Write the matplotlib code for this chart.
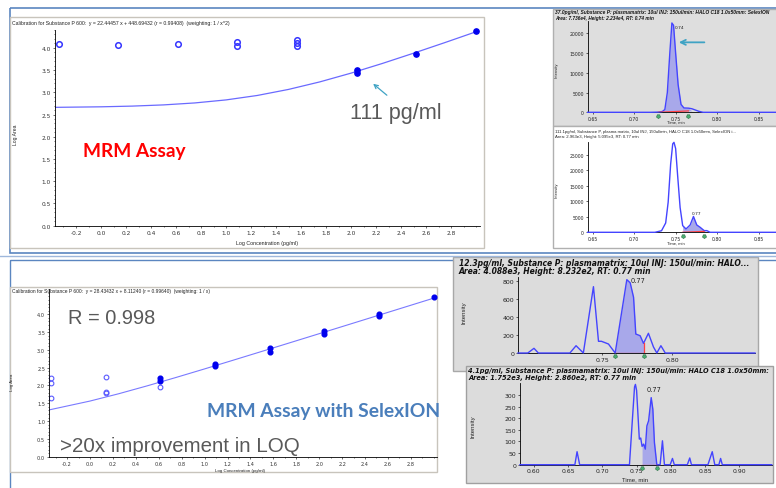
import matplotlib.pyplot as plt
from matplotlib.patches import Rectangle
from matplotlib.ticker import MultipleLocator, FormatStrFormatter
import numpy as np

W, H = 776, 489

# ---- calibration data (log conc pg/ml vs log area) ----
top_open_x = [-0.34, 0.137, 0.614, 1.09, 1.09, 1.568, 1.568, 1.568]
top_open_y = [4.08, 4.06, 4.08, 4.14, 4.04, 4.17, 4.10, 4.04]
top_fill_x = [2.045, 2.045, 2.522, 3.0]
top_fill_y = [3.51, 3.44, 3.86, 4.37]
top_fit_x = [-0.37, 0.0, 0.25, 0.5, 0.75, 1.0, 1.25, 1.5, 1.75, 2.0, 2.25, 2.5, 2.75, 3.0]
top_fit_y = [2.661, 2.673, 2.689, 2.716, 2.760, 2.828, 2.928, 3.064, 3.233, 3.430, 3.647, 3.878, 4.116, 4.360]

bot_open_x = [-0.34, -0.34, -0.34, 0.137, 0.137, 0.137, 0.614]
bot_open_y = [2.21, 2.06, 1.65, 2.23, 1.83, 1.80, 1.95]
bot_fill_x = [0.614, 0.614, 1.09, 1.09, 1.568, 1.568, 2.045, 2.045, 2.522, 2.522, 3.0]
bot_fill_y = [2.21, 2.12, 2.60, 2.54, 3.04, 2.93, 3.52, 3.45, 4.01, 3.96, 4.49]
bot_fit_x = [-0.36, 0.0, 0.25, 0.5, 0.75, 1.0, 1.25, 1.5, 1.75, 2.0, 2.25, 2.5, 2.75, 3.0]
bot_fit_y = [1.312, 1.563, 1.768, 1.991, 2.225, 2.466, 2.711, 2.958, 3.206, 3.455, 3.704, 3.954, 4.204, 4.454]

# ---- chromatograms (time min vs intensity) ----
t1 = [0.644, 0.720, 0.729, 0.734, 0.737, 0.740, 0.743, 0.7455, 0.7475, 0.750, 0.753,
      0.7565, 0.760, 0.7655, 0.7696, 0.7735, 0.7780, 0.7830, 0.871]
i1 = [0, 0, 50, 200, 700, 5000, 15000, 22600, 22000, 15000, 7000, 2000, 1100, 1050, 900, 600, 250, 0, 0]
int1 = (0.729, 0.7655)

t2 = [0.644, 0.725, 0.733, 0.738, 0.741, 0.744, 0.7465, 0.748, 0.750, 0.7525, 0.7554, 0.7585,
      0.7625, 0.7675, 0.7715, 0.7755, 0.7796, 0.7844, 0.7876, 0.7916, 0.871]
i2 = [0, 0, 500, 3000, 9700, 22000, 28500, 29000, 27000, 18000, 8000, 2150, 1075, 2365, 5100,
      2365, 1600, 540, 540, 0, 0]
int2 = (0.7585, 0.7844)

t3 = [0.690, 0.697, 0.7014, 0.7045, 0.727, 0.7314, 0.7366, 0.7438, 0.7474, 0.7495, 0.7545, 0.7593,
      0.7676, 0.7700, 0.7724, 0.7740, 0.7771, 0.7795, 0.7830, 0.7866, 0.7890, 0.7919, 0.7950, 0.859]
i3 = [0, 0, 52, 0, 0, 81, 0, 737, 130, 130, 100, 0, 815, 780, 619, 211, 192, 107, 219, 67, 0, 81, 0, 0]
int3 = (0.7593, 0.7795)

t4 = [0.580, 0.660, 0.6632, 0.667, 0.7396, 0.7440, 0.7470, 0.7483, 0.7500, 0.7540, 0.7560, 0.7580,
      0.7603, 0.7627, 0.7650, 0.7675, 0.7713, 0.7737, 0.7760, 0.7795, 0.7843, 0.7877, 0.7906, 0.7990,
      0.8023, 0.8050, 0.8240, 0.8275, 0.8300, 0.8540, 0.8603, 0.8640, 0.8700, 0.8725, 0.8750, 0.947]
i4 = [0, 0, 56, 0, 0, 200, 335, 346, 320, 110, 115, 79, 89, 67, 167, 189, 289, 239, 96, 0, 0, 103, 0,
      0, 27, 0, 0, 29, 0, 0, 56, 0, 0, 27, 0, 0]
int4 = (0.7580, 0.7795)

TRACE = '#4444ff'
FILLC = '#a8a8ea'
GRAY_TXT = '#595959'
BOX_BLUE = '#5b86c0'
TEAL = '#3fa3c4'

fig = plt.figure(figsize=(W / 100, H / 100), dpi=100)


def rect(x0, y0, x1, y1):
    return [x0 / W, 1 - y1 / H, (x1 - x0) / W, (y1 - y0) / H]


bg = fig.add_axes([0, 0, 1, 1], zorder=0)
bg.set_xlim(0, W)
bg.set_ylim(H, 0)
bg.axis('off')


def box(x0, y0, x1, y1, fc='none', ec='#c8c4bc', lw=1.0):
    bg.add_patch(Rectangle((x0, y0), x1 - x0, y1 - y0, fc=fc, ec=ec, lw=lw))


# slide boxes
box(10, 9, 800, 254, ec=BOX_BLUE, lw=1.2)
bg.plot([0, W], [257, 257], color='#9fb8dc', lw=1.0)
box(10, 261, 800, 520, ec=BOX_BLUE, lw=1.0)
# calibration frames
box(10, 18, 484, 249, fc='white')
box(10, 288, 437, 473, fc='white')
# chromatogram panels
box(553, 10, 800, 127, fc='#dedede', ec='#b0b0b0')
box(553, 127, 800, 249, fc='white', ec='#b0b0b0')
box(453, 258, 758, 372, fc='#dcdcdc', ec='#a8a8a8')
box(466, 367, 773, 484, fc='#dcdcdc', ec='#a0a0a0')


def calib(ax, xlim, ylim, fs):
    ax.set_xlim(*xlim)
    ax.set_ylim(*ylim)
    for s in ['top', 'right']:
        ax.spines[s].set_visible(False)
    for s in ['left', 'bottom']:
        ax.spines[s].set_linewidth(0.6)
    ax.set_xticks(np.arange(-0.2, 2.81, 0.2))
    ax.set_yticks(np.arange(0, 4.01, 0.5))
    ax.xaxis.set_major_formatter(FormatStrFormatter('%.1f'))
    ax.yaxis.set_major_formatter(FormatStrFormatter('%.1f'))
    ax.xaxis.set_minor_locator(MultipleLocator(0.1))
    ax.yaxis.set_minor_locator(MultipleLocator(0.1))
    ax.tick_params(labelsize=fs, length=1.6, width=0.5, pad=1.2, colors='#333333')
    ax.tick_params(which='minor', length=0.9, width=0.4)
    ax.patch.set_alpha(0)


# ---- top calibration ----
ax1 = fig.add_axes(rect(55, 31, 480, 226.7), zorder=1)
calib(ax1, (-0.368, 3.032), (0, 4.4), 4.2)
ax1.plot(top_fit_x, top_fit_y, color='#6a6aff', lw=0.9)
ax1.plot(top_open_x, top_open_y, 'o', mfc='none', mec='#3535ff', ms=4, mew=1.1, clip_on=False)
ax1.plot(top_fill_x, top_fill_y, 'o', color='#0000ee', ms=3.8, clip_on=False)

# ---- bottom calibration ----
ax2 = fig.add_axes(rect(49, 290, 437, 457.7), zorder=1)
calib(ax2, (-0.358, 3.028), (0, 4.71), 3.6)
ax2.plot(bot_fit_x, bot_fit_y, color='#7a7aff', lw=0.8)
ax2.plot(bot_open_x, bot_open_y, 'o', mfc='none', mec='#5a5aff', ms=3.4, mew=0.8)
ax2.plot(bot_fill_x, bot_fill_y, 'o', color='#0000ee', ms=3.4, clip_on=False)


def chrom(ax, t, y, integ, xlim, ylim, xticks, yticks, fs, face, base_end=0.0, drop=False):
    t = np.array(t)
    y = np.array(y, dtype=float)
    ax.set_facecolor(face)
    base = np.interp(t, [integ[0], integ[1]], [0, base_end])
    m = (t >= integ[0]) & (t <= integ[1])
    ax.fill_between(t, base, y, where=m & (y >= base), color=FILLC, lw=0, interpolate=True)
    ax.plot(t, y, color=TRACE, lw=1.0, clip_on=False, zorder=3)
    ax.plot([integ[0], integ[1]], [0, base_end], color='#ff4040', lw=0.9, zorder=4)
    if drop:
        ax.plot([integ[1], integ[1]], [0, y[t == integ[1]][0]], color='#ff4040', lw=0.9, zorder=4)
    ax.plot(integ, [-ylim[1] * 0.045] * 2, marker=(5, 0, 180), ls='none', ms=3,
            mfc='#4caf72', mec='#2a6e44', mew=0.4, clip_on=False, zorder=5)
    ax.set_xlim(*xlim)
    ax.set_ylim(*ylim)
    for s in ['top', 'right']:
        ax.spines[s].set_visible(False)
    for s in ['left', 'bottom']:
        ax.spines[s].set_linewidth(0.6)
    ax.set_xticks(xticks)
    ax.set_yticks(yticks)
    ax.xaxis.set_major_formatter(FormatStrFormatter('%.2f'))
    ax.tick_params(labelsize=fs, length=1.5, width=0.5, pad=1.2, colors='#222222')


ax3 = fig.add_axes(rect(587.7, 22, 776, 113.3), zorder=1)
chrom(ax3, t1, i1, int1, (0.644, 0.871), (0, 23100), [0.65, 0.70, 0.75, 0.80, 0.85],
      [0, 5000, 10000, 15000, 20000], 3.3, '#dedede', base_end=350)
ax3.text(0.7495, 21300, '0.74', fontsize=3.2, color='#222222')
ax3.annotate('', xy=(0.7505, 17700), xytext=(0.7880, 17700),
             arrowprops=dict(arrowstyle='->', color=TEAL, lw=1.3, mutation_scale=9))

ax4 = fig.add_axes(rect(587.7, 143, 776, 233.3), zorder=1)
chrom(ax4, t2, i2, int2, (0.644, 0.871), (0, 29100), [0.65, 0.70, 0.75, 0.80, 0.85],
      [0, 5000, 10000, 15000, 20000, 25000], 3.3, 'white', base_end=300)
ax4.text(0.7695, 6000, '0.77', fontsize=3.2, color='#222222')

ax5 = fig.add_axes(rect(518, 277.5, 755, 354), zorder=1)
chrom(ax5, t3, i3, int3, (0.690, 0.859), (0, 850), [0.75, 0.80],
      [0, 200, 400, 600, 800], 4.5, '#dcdcdc', drop=True)
ax5.text(0.7700, 790, '0.77', fontsize=4.8, color='#222222')

ax6 = fig.add_axes(rect(520, 384, 771.7, 465.7), zorder=1)
chrom(ax6, t4, i4, int4, (0.580, 0.947), (0, 352), [0.60, 0.65, 0.70, 0.75, 0.80, 0.85, 0.90],
      [0, 50, 100, 150, 200, 250, 300], 4.4, '#dcdcdc')
ax6.text(0.7640, 318, '0.77', fontsize=4.8, color='#222222')

# ---- overlay texts ----
fg = fig.add_axes([0, 0, 1, 1], zorder=5)
fg.set_xlim(0, W)
fg.set_ylim(H, 0)
fg.axis('off')

small = dict(family='Liberation Sans', color='#222222')
fg.text(12, 23, 'Calibration for Substance P 600:  y = 22.44457 x + 448.69432 (r = 0.99408)  (weighting: 1 / x^2)',
        fontsize=3.7, va='center', **small)
fg.text(12, 292, 'Calibration for Substance P 600:  y = 28.43432 x + 8.11240 (r = 0.99640)  (weighting: 1 / x)',
        fontsize=3.5, va='center', **small)
fg.text(15, 135, 'Log Area', fontsize=3.6, rotation=90, ha='center', va='center', **small)
fg.text(267, 243, 'Log Concentration (pg/ml)', fontsize=3.8, ha='center', va='center', **small)
fg.text(12, 382, 'Log Area', fontsize=3.2, rotation=90, ha='center', va='center', **small)
fg.text(240, 471, 'Log Concentration (pg/ml)', fontsize=3.2, ha='center', va='center', **small)

fg.text(83, 151, 'MRM Assay', fontsize=13.8, fontweight='bold', color='#ff0000',
        family='Lato', va='center')
fg.text(350, 113, '111 pg/ml', fontsize=15.6, color=GRAY_TXT, family='Liberation Sans', va='center')
fg.annotate('', xy=(371, 83), xytext=(389, 98),
            arrowprops=dict(arrowstyle='->', color=TEAL, lw=0.9, mutation_scale=7))
fg.text(68, 318, 'R = 0.998', fontsize=14.4, color=GRAY_TXT, family='Liberation Sans', va='center')
fg.text(60, 447, '>20x improvement in LOQ', fontsize=14.8, color=GRAY_TXT, family='Liberation Sans',
        va='center')
fg.text(207, 412, 'MRM Assay with SelexION', fontsize=13.9, fontweight='bold', color='#4a7ebb',
        family='Lato', va='center')

bi = dict(family='DejaVu Sans', fontweight='bold', style='italic', color='#111111', va='center')
fg.text(555, 12.5, '37.0pg/ml, Substance P: plasmamatrix: 10ul INJ: 150ul/min: HALO C18 1.0x50mm: SelexION',
        fontsize=3.5, family='Liberation Sans', fontweight='bold', style='italic', color='#111111',
        va='center')
fg.text(555, 18.5, 'Area: 7.736e4, Height: 2.234e4, RT: 0.74 min', fontsize=3.4,
        family='Liberation Sans', fontweight='bold', style='italic', color='#111111', va='center')
fg.text(555, 131.5, '111.1pg/ml, Substance P, plasma matrix, 10ul INJ, 150ul/min, HALO C18 1.0x50mm, SelexION i...',
        fontsize=3.1, family='Liberation Sans', color='#222222', va='center')
fg.text(555, 137, 'Area: 2.963e3, Height: 5.095e3, RT: 0.77 min', fontsize=3.1,
        family='Liberation Sans', color='#222222', va='center')
fg.text(459, 264, '12.3pg/ml, Substance P: plasmamatrix: 10ul INJ: 150ul/min: HALO...',
        fontsize=5.5, **bi)
fg.text(459, 272, 'Area: 4.088e3, Height: 8.232e2, RT: 0.77 min', fontsize=5.5, **bi)
fg.text(468, 370.5, '4.1pg/ml, Substance P: plasmamatrix: 10ul INJ: 150ul/min: HALO C18 1.0x50mm:',
        fontsize=4.75, **bi)
fg.text(468, 377.5, 'Area: 1.752e3, Height: 2.860e2, RT: 0.77 min', fontsize=4.75, **bi)

fg.text(557, 70, 'Intensity', fontsize=3.0, rotation=90, ha='center', va='center', **small)
fg.text(557, 190, 'Intensity', fontsize=3.0, rotation=90, ha='center', va='center', **small)
fg.text(464, 313, 'Intensity', fontsize=4.3, rotation=90, ha='center', va='center', **small)
fg.text(473, 427, 'Intensity', fontsize=4.3, rotation=90, ha='center', va='center', **small)
fg.text(676, 123, 'Time, min', fontsize=3.0, ha='center', va='center', **small)
fg.text(676, 244, 'Time, min', fontsize=3.0, ha='center', va='center', **small)
fg.text(635, 479.5, 'Time, min', fontsize=4.3, ha='center', va='center', **small)

fig.savefig('out.png', dpi=100)
